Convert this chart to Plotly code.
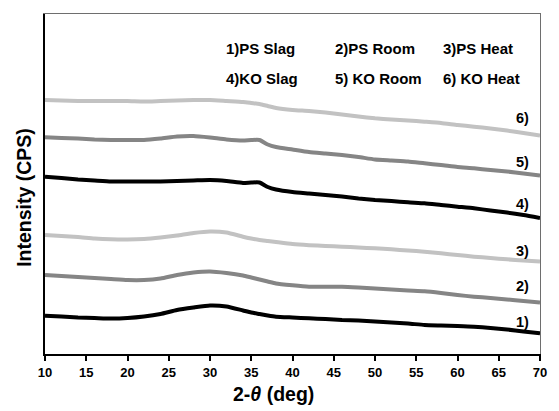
import plotly.graph_objects as go

# 2-theta positions (deg)
two_theta = [10, 12, 14, 16, 18, 20, 22, 24, 26, 28, 30, 32, 34, 35, 36, 37,
             38, 40, 42, 44, 46, 48, 50, 52, 54, 56, 58, 60, 62, 64, 66, 68, 70]

# Intensities (arbitrary, stacked/offset as in the figure)
ps_slag = [38.3, 37.5, 36.5, 36, 35.5, 36, 37.5, 40, 44, 46.5, 48.5, 47.5, 43.5,
           41.5, 40, 38.5,
           37.3, 36.5, 35.7, 35, 34, 33.5, 32.5, 31.5, 30.5, 29, 28.5, 28, 27.3, 26, 24.5, 22.5, 20.7]
ps_room = [79, 78, 77, 76, 75, 74, 74, 75.5, 79, 81.5, 82.5, 81, 78.5,
           76.5, 74.5, 72.5,
           70.5, 68.7, 67.3, 67.3, 67.3, 66.5, 65.5, 64.5, 63.5, 62.7, 61, 59, 57.3, 56, 54.5, 53, 51.5]
ps_heat = [119, 118, 117, 115.5, 114.7, 114.5, 115, 116.5, 118.5, 121, 122.5, 121.5, 117.3,
           115.5, 114, 113,
           112, 110, 108.8, 108, 107.3, 106.5, 105.7, 104.7, 103.5, 102.3, 100.7, 99, 97.3, 96, 94.7, 93.5, 92.5]
ko_slag = [177.3, 176, 174.5, 173.5, 172.5, 172.5, 172.5, 172.5, 173, 173.5, 174, 173, 171,
           171.5, 171.5, 167,
           164.5, 162, 160.5, 159, 157.5, 155.5, 154, 153, 151.7, 150.7, 149, 147.3, 145.7, 143.5, 141.5, 139, 136]
ko_room = [216.7, 216, 215.5, 214.5, 214, 214, 214, 215.5, 217.5, 218, 216.5, 214.5, 213.5,
           214, 214, 209.5,
           207, 204.5, 202, 200.5, 199, 197, 194.5, 193.5, 192.5, 190.7, 189, 187, 185.7, 184, 182.5, 180.5, 178.5]
ko_heat = [254, 253.5, 253, 253, 253, 253, 252.5, 253, 253.5, 254, 254, 253, 252,
           251, 250, 248,
           246, 244, 243, 241.5, 239.5, 237.5, 235.7, 234.5, 233.5, 232.3, 231, 229, 227.3, 225.5, 223.5, 221, 218.5]

series = [ps_slag, ps_room, ps_heat, ko_slag, ko_room, ko_heat]
series_names = ["1)PS Slag", "2)PS Room", "3)PS Heat", "4)KO Slag", "5) KO Room", "6) KO Heat"]
curve_tags = ["1)", "2)", "3)", "4)", "5)", "6)"]
tag_y = [32, 68.5, 103.5, 150.5, 192.5, 236.5]
colors = ["#000000", "#858585", "#c2c2c2", "#000000", "#858585", "#c2c2c2"]

x_ticks = list(range(10, 71, 5))

FONT = "Liberation Sans, Arial, sans-serif"

fig = go.Figure()
for vals, name, col in zip(series, series_names, colors):
    fig.add_trace(go.Scatter(x=two_theta, y=vals, mode="lines", name=name,
                             line=dict(color=col, width=4, shape="spline", smoothing=0.5),
                             showlegend=False, hoverinfo="skip"))

annotations = []
# legend text block
leg_x = [0.3625, 0.5817, 0.8008]
leg_y = [0.930, 0.840]
for i, name in enumerate(series_names):
    row, col = divmod(i, 3)
    annotations.append(dict(x=leg_x[col], y=leg_y[row], xref="paper", yref="paper",
                            text="<b>%s</b>" % name, showarrow=False, xanchor="left",
                            font=dict(family=FONT, size=15, color="#000")))
# curve tags at right
for tag, ty in zip(curve_tags, tag_y):
    annotations.append(dict(x=68.85, y=ty, xref="x", yref="y", text="<b>%s</b>" % tag,
                            showarrow=False, xanchor="right",
                            font=dict(family=FONT, size=14.5, color="#000")))
# axis titles
annotations.append(dict(x=0.461, y=-0.118, xref="paper", yref="paper", showarrow=False,
                        text="<b>2-<i>θ</i> (deg)</b>", xanchor="center", yanchor="middle",
                        font=dict(family=FONT, size=19.5, color="#000")))
annotations.append(dict(x=-0.044, y=0.46, xref="paper", yref="paper", showarrow=False,
                        text="<b>Intensity (CPS)</b>", textangle=-90, xanchor="center", yanchor="middle",
                        font=dict(family=FONT, size=19.5, color="#000")))

fig.update_layout(
    width=559, height=411, autosize=False,
    margin=dict(l=45, r=12, t=14, b=57),
    paper_bgcolor="white", plot_bgcolor="white",
    font=dict(family=FONT, color="#000"),
    annotations=annotations,
    xaxis=dict(range=[10, 70], tickvals=x_ticks, ticktext=["<b>%d</b>" % t for t in x_ticks],
               showgrid=False, zeroline=False, showline=True, linecolor="#000", linewidth=2,
               ticks="outside", ticklen=5, tickwidth=1.5, tickcolor="#000",
               tickfont=dict(family=FONT, size=13, color="#000"), mirror=False),
    yaxis=dict(range=[0, 340], showgrid=False, zeroline=False, showline=True, linecolor="#000",
               linewidth=1.5, showticklabels=False, ticks=""),
    # overlay axes used only to draw the thin grey top and right frame lines
    xaxis2=dict(overlaying="x", side="top", matches="x", showline=True, linecolor="#6e6e6e",
                linewidth=1.2, showticklabels=False, ticks="", showgrid=False, zeroline=False),
    yaxis2=dict(overlaying="y", side="right", matches="y", showline=True, linecolor="#6e6e6e",
                linewidth=1.2, showticklabels=False, ticks="", showgrid=False, zeroline=False),
)
# invisible trace to activate the overlay axes
fig.add_trace(go.Scatter(x=[two_theta[0]], y=[ps_slag[0]], xaxis="x2", yaxis="y2", mode="markers",
                         marker=dict(opacity=0), showlegend=False, hoverinfo="skip"))

fig.write_html("out.html", config={"displayModeBar": False, "responsive": False},
               post_script="document.body.style.margin='0px';")
